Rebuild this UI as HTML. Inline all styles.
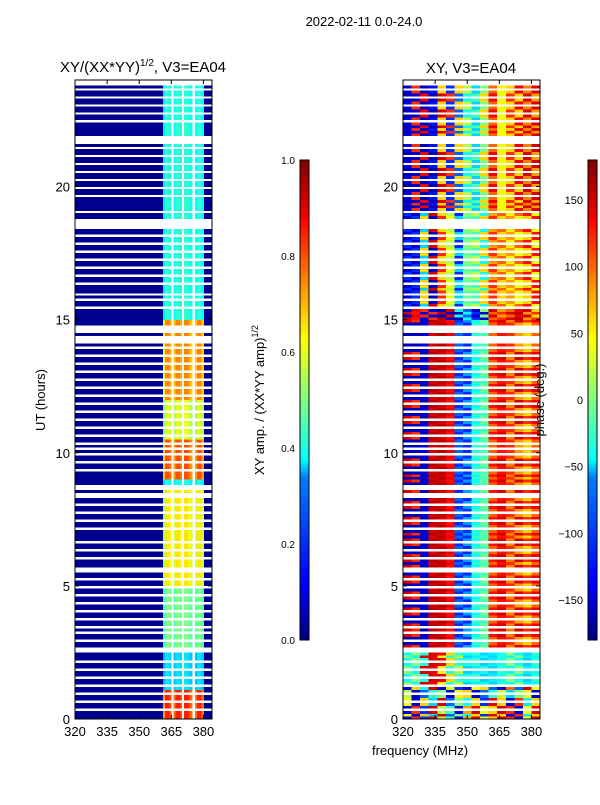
<!DOCTYPE html>
<html><head><meta charset="utf-8">
<style>
body{margin:0;background:#fff;}
svg text{font-family:"Liberation Sans",sans-serif;fill:#000;}
#amp rect,#phs rect{shape-rendering:crispEdges;}
</style></head>
<body>
<svg id="fig" width="600" height="800" viewBox="0 0 600 800" xmlns="http://www.w3.org/2000/svg">
<defs>
<linearGradient id="jet" x1="0" y1="1" x2="0" y2="0">
<stop offset="0" stop-color="#00007f"/><stop offset="0.11" stop-color="#0000ff"/><stop offset="0.125" stop-color="#0000ff"/>
<stop offset="0.34" stop-color="#0080ff"/><stop offset="0.375" stop-color="#00ffff"/><stop offset="0.5" stop-color="#7fff7f"/>
<stop offset="0.625" stop-color="#ffff00"/><stop offset="0.66" stop-color="#ffe000"/><stop offset="0.875" stop-color="#ff0000"/><stop offset="1" stop-color="#7f0000"/>
</linearGradient>
</defs>
<text x="364" y="26" font-size="13" text-anchor="middle">2022-02-11 0.0-24.0</text>
<text x="143" y="72" font-size="15" text-anchor="middle">XY/(XX*YY)<tspan font-size="10" dy="-6">1/2</tspan><tspan dy="6">, V3=EA04</tspan></text>
<text x="471" y="73" font-size="15" text-anchor="middle">XY, V3=EA04</text>
<g id="amp"></g>
<g id="phs"></g>
<rect x="75" y="80" width="137" height="639" fill="none" stroke="#000" stroke-width="1"/>
<rect x="403" y="80" width="137" height="639" fill="none" stroke="#000" stroke-width="1"/>
<g id="axes"></g>
<text transform="translate(45,400) rotate(-90)" font-size="13" text-anchor="middle">UT (hours)</text>
<text x="420" y="755" font-size="13" text-anchor="middle">frequency (MHz)</text>
<rect x="300" y="160" width="9" height="480" fill="url(#jet)" stroke="#000" stroke-width="1"/>
<rect x="588" y="160" width="9" height="480" fill="url(#jet)" stroke="#000" stroke-width="1"/>
<text transform="translate(264,400) rotate(-90)" font-size="13" text-anchor="middle">XY amp. / (XX*YY amp)<tspan font-size="9" dy="-6">1/2</tspan></text>
<text transform="translate(544,400) rotate(-90)" font-size="13" text-anchor="middle">phase (deg.)</text>
</svg>
<script>
const ampTicks=[0,0.2,0.4,0.6,0.8,1.0];
const phaseTicks=[-150,-100,-50,0,50,100,150];
const xTicks=[320,335,350,365,380];
const yTicks=[0,5,10,15,20];
const gaps=[[21.6,21.9],[14.5,14.8],[8.6,8.8],[2.5,2.7],[18.5,18.65],[15.9,16.0],[23.9,24]];
const thinFlags=[0.3,0.6,0.9,1.2,1.5,1.8,2.1,2.9,3.2,3.4,3.7,4.0,4.3,4.6,4.9,5.2,5.5,5.6,6.0,6.3,6.6,7.1,7.4,7.7,8.0,8.3,8.4,9.3,9.6,9.9,10.1,10.3,10.6,10.9,11.2,11.5,11.8,12.1,12.4,12.7,13.0,13.3,13.6,13.9,14.1,14.2,14.3,15.4,15.7,16.3,16.6,16.9,17.2,17.5,17.8,18.1,18.4,18.7,19.0,19.6,19.9,20.2,20.5,20.8,21.1,21.4,22.4,22.7,23.0,23.3,23.6,23.8];
const ampSegStart=[0,1.1,2.7,5.0,8.8,9.0,10.5,12.0,15.0];
const ampSegLevel=[0.85,0.35,0.5,0.65,0.4,0.8,0.6,0.75,0.42];
const chanFreq=[361,362,363,364,365,366,367,368,369,370,371,372,373,374,375,376,377,378,379];
const chanFactor=[0.85,1,1,0.95,null,0.9,1,1,0.95,null,1,1,0.95,0.9,null,0.9,1,1,0.9];
const phSegStart=[0,0.8,1.3,2.7,15.0,15.4,19.0];
const phBands=[320,324,328,332,336,340,344,348,352,356,360,364,368,372,376,380];
const phA=[
[-150,120,-120,150,20,-20,-150,80,150,40,60,150,120,-150,40,150],
[20,-150,-100,-30,0,-150,50,60,-150,-100,-30,30,-60,0,40,-150],
[-40,0,-30,150,140,60,-30,-40,-30,-60,-50,-40,0,-40,-60,-30],
[-160,-160,-150,150,160,140,-100,-120,-30,-20,100,130,120,80,60,100],
[150,130,-150,120,160,-150,-160,-40,-120,-150,100,120,150,160,80,120],
[-150,-120,60,-160,120,40,-60,-10,-20,60,120,60,80,40,60,130],
[-160,-150,140,-160,150,120,-100,-40,-20,60,140,40,120,60,150,80]];
const phB=[
[40,-150,60,-60,150,-100,0,-40,60,-120,140,60,-150,120,-50,60],
[-150,60,-40,150,-150,30,-120,-150,40,60,-100,-150,100,-100,150,40],
[0,-40,150,140,50,-30,20,-60,-50,-40,-60,-30,-40,0,-50,-40],
[150,120,-160,160,150,130,-120,-80,-40,-10,130,150,90,150,120,140],
[-160,140,120,-150,-160,150,-40,-100,-150,0,150,80,100,140,150,60],
[-120,-150,-60,150,60,20,-120,0,20,-40,80,100,50,100,130,40],
[-150,120,-160,-130,60,-120,60,20,-60,0,100,40,60,140,90,150]];

const NS='http://www.w3.org/2000/svg';
function jet(v){v=Math.max(0,Math.min(1,v));
 const r=Math.max(0,Math.min(1,1.5-Math.abs(4*v-3))),g=Math.max(0,Math.min(1,1.5-Math.abs(4*v-2))),b=Math.max(0,Math.min(1,1.5-Math.abs(4*v-1)));
 return 'rgb('+Math.round(r*255)+','+Math.round(g*255)+','+Math.round(b*255)+')';}
function xL(f){return 75+(f-320)*137/64;}
function xR(f){return 403+(f-320)*137/64;}
function yS(h){return 719-h*639/24;}
function segIdx(starts,h){let k=0;for(let i=0;i<starts.length;i++)if(h>=starts[i])k=i;return k;}
function flagged(h){for(const g of gaps)if(h>=g[0]-0.001&&h<g[1]-0.001)return true;
 for(const t of thinFlags)if(Math.abs(h-t)<0.04)return true;return false;}
function rect(g,x,y,w,h,fill,name){const r=document.createElementNS(NS,'rect');
 r.setAttribute('x',x.toFixed(2));r.setAttribute('y',y.toFixed(2));r.setAttribute('width',w.toFixed(2));r.setAttribute('height',h.toFixed(2));r.setAttribute('fill',fill);
 
 
 g.appendChild(r);}
const amp=document.getElementById('amp'),phs=document.getElementById('phs');
const dh=0.1;
for(let i=0;i<240;i++){
 const h=i*dh, y0=yS(h+dh), hh=yS(h)-y0+0.3;
 if(flagged(h+0.001))continue;
 rect(amp,xL(320),y0,xL(384)-xL(320),hh,'#00008f','amp-row-background');
 const lvl=ampSegLevel[segIdx(ampSegStart,h)];
 for(let c=0;c<chanFreq.length;c++){
  const f=chanFactor[c];
  const fill=f===null?'#ffffff':jet(lvl*f);
  const w=xL(chanFreq[c]+1)-xL(chanFreq[c]);
  rect(amp,xL(chanFreq[c]),y0,f===null?w:w+0.6,hh,fill,'amp-cell');
 }
 const s=segIdx(phSegStart,h), arr=(i%2===0)?phA[s]:phB[s];
 for(let b=0;b<phBands.length;b++){
  const f0=phBands[b], f1=b+1<phBands.length?phBands[b+1]:384;
  rect(phs,xR(f0),y0,xR(f1)-xR(f0)+0.6,hh,jet((arr[b]+180)/360),'phase-cell');
 }
}
const ax=document.getElementById('axes');
function txt(x,y,s,anchor,size,name){const t=document.createElementNS(NS,'text');t.setAttribute('x',x);t.setAttribute('y',y);t.setAttribute('font-size',size);t.setAttribute('text-anchor',anchor);t.textContent=s;
 
 
 ax.appendChild(t);}
function line(x1,y1,x2,y2,name){const l=document.createElementNS(NS,'line');l.setAttribute('x1',x1);l.setAttribute('y1',y1);l.setAttribute('x2',x2);l.setAttribute('y2',y2);l.setAttribute('stroke','#000');
 
 
 ax.appendChild(l);}
for(const f of xTicks){
 txt(xL(f),736,String(f),'middle',13,'x-tick-label');txt(xR(f),736,String(f),'middle',13,'x-tick-label');
 line(xL(f),719,xL(f),715,'x-tick');line(xL(f),80,xL(f),84,'x-tick');
 line(xR(f),719,xR(f),715,'x-tick');line(xR(f),80,xR(f),84,'x-tick');}
for(const h of yTicks){
 txt(70,yS(h)+5,String(h),'end',13,'y-tick-label');txt(398,yS(h)+5,String(h),'end',13,'y-tick-label');
 line(75,yS(h),79,yS(h),'y-tick');line(212,yS(h),208,yS(h),'y-tick');
 line(403,yS(h),407,yS(h),'y-tick');line(540,yS(h),536,yS(h),'y-tick');}
for(const v of ampTicks){const y=640-v*480;txt(295,y+4,v.toFixed(1),'end',10,'amp-colorbar-tick');}
for(const v of phaseTicks){const y=640-(v+180)/360*480;txt(583,y+4,v<0?'\u2212'+Math.abs(v):String(v),'end',11,'phase-colorbar-tick');}
</script>
</body></html>
